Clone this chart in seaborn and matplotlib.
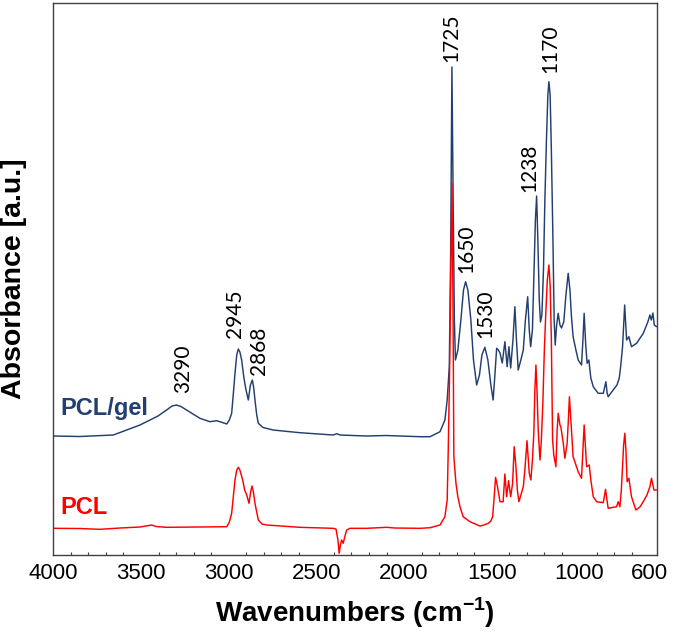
import numpy as np
import matplotlib
matplotlib.use("Agg")
import matplotlib.pyplot as plt
import seaborn as sns
import pandas as pd

# FTIR spectra, wavenumber [cm-1] / absorbance [a.u.]
GEL_WN = [4000, 3848, 3658, 3582, 3506, 3449, 3403, 3354, 3323, 3297, 3272, 3240,
          3204, 3164, 3107, 3069, 3044, 3011, 2996, 2983, 2974, 2964, 2954, 2945,
          2936, 2926, 2913, 2901, 2888, 2876, 2865, 2857, 2850, 2840, 2831, 2804,
          2746, 2594, 2404, 2384, 2365, 2213, 2103, 1909, 1852, 1795, 1767, 1754,
          1742, 1734, 1727, 1720, 1713, 1707, 1693, 1676, 1661, 1649, 1636, 1619,
          1604, 1586, 1570, 1556, 1539, 1522, 1505, 1492, 1482, 1472, 1462, 1453,
          1440, 1425, 1412, 1402, 1392, 1379, 1368, 1359, 1349, 1334, 1320, 1308,
          1295, 1286, 1278, 1268, 1260, 1251, 1244, 1237, 1229, 1222, 1214, 1205,
          1197, 1188, 1180, 1174, 1167, 1160, 1151, 1144, 1138, 1130, 1121, 1111,
          1102, 1089, 1077, 1064, 1054, 1046, 1036, 1020, 1007, 988, 980, 973,
          964, 956, 946, 935, 921, 893, 864, 849, 842, 836, 807, 786,
          773, 764, 754, 742, 731, 718, 703, 674, 636, 610, 598, 590,
          581, 573, 560]
GEL_ABS = [1.19, 1.185, 1.20, 1.25, 1.30, 1.35, 1.39, 1.45, 1.49, 1.50, 1.485, 1.45,
           1.41, 1.367, 1.333, 1.343, 1.33, 1.31, 1.35, 1.417, 1.60, 1.817, 2.00, 2.06,
           2.03, 1.95, 1.77, 1.65, 1.55, 1.70, 1.75, 1.67, 1.55, 1.40, 1.317, 1.275,
           1.25, 1.223, 1.20, 1.213, 1.20, 1.19, 1.195, 1.183, 1.183, 1.233, 1.35, 1.55,
           1.883, 3.05, 4.88, 3.55, 2.35, 1.95, 2.05, 2.35, 2.65, 2.733, 2.65, 2.35,
           1.95, 1.70, 1.80, 2.00, 2.077, 1.95, 1.70, 1.55, 1.80, 2.067, 2.05, 2.02,
           1.92, 2.133, 1.883, 2.083, 1.87, 2.15, 2.483, 2.15, 1.85, 1.95, 2.05, 2.35,
           2.583, 2.25, 2.083, 2.25, 2.75, 3.35, 3.59, 3.15, 2.55, 2.33, 2.40, 2.85,
           3.55, 4.15, 4.60, 4.733, 4.60, 4.05, 3.15, 2.35, 2.10, 2.30, 2.417, 2.30,
           2.27, 2.333, 2.60, 2.817, 2.65, 2.40, 2.183, 2.05, 1.95, 1.90, 2.15, 2.417,
           2.10, 1.917, 1.95, 1.77, 1.683, 1.617, 1.617, 1.733, 1.62, 1.583, 1.65, 1.70,
           1.767, 1.90, 2.083, 2.50, 2.15, 2.183, 2.083, 2.117, 2.217, 2.33, 2.40, 2.35,
           2.42, 2.30, 2.283]

PCL_WN = [4000, 3848, 3734, 3620, 3506, 3439, 3414, 3354, 3164, 3011, 2996, 2983,
          2974, 2964, 2954, 2945, 2936, 2920, 2909, 2897, 2884, 2875, 2867, 2859,
          2850, 2840, 2831, 2810, 2783, 2594, 2404, 2388, 2377, 2370, 2363, 2356,
          2347, 2337, 2327, 2308, 2213, 2099, 2052, 1909, 1852, 1795, 1767, 1754,
          1748, 1741, 1734, 1727, 1721, 1716, 1704, 1693, 1681, 1663, 1624, 1567,
          1545, 1520, 1505, 1495, 1486, 1478, 1467, 1453, 1435, 1425, 1415, 1404,
          1392, 1381, 1372, 1362, 1354, 1345, 1334, 1320, 1311, 1299, 1286, 1277,
          1268, 1260, 1254, 1248, 1242, 1235, 1225, 1217, 1208, 1200, 1191, 1183,
          1174, 1167, 1160, 1153, 1146, 1134, 1127, 1121, 1111, 1106, 1092, 1083,
          1070, 1063, 1057, 1049, 1036, 1020, 1007, 988, 980, 973, 966, 959,
          944, 935, 921, 902, 864, 851, 843, 836, 815, 788, 779, 769,
          761, 754, 748, 741, 735, 728, 718, 703, 678, 655, 636, 615,
          598, 589, 581, 575, 560]
PCL_ABS = [0.267, 0.265, 0.257, 0.27, 0.28, 0.30, 0.285, 0.277, 0.28, 0.283, 0.33, 0.417,
           0.58, 0.75, 0.85, 0.877, 0.85, 0.75, 0.65, 0.60, 0.517, 0.63, 0.69, 0.63,
           0.517, 0.43, 0.35, 0.31, 0.30, 0.277, 0.267, 0.26, 0.15, 0.017, 0.10, 0.15,
           0.117, 0.19, 0.25, 0.267, 0.267, 0.277, 0.27, 0.267, 0.273, 0.30, 0.383, 0.55,
           1.05, 1.75, 2.75, 3.717, 2.55, 0.983, 0.717, 0.58, 0.483, 0.383, 0.333, 0.29,
           0.30, 0.317, 0.34, 0.383, 0.583, 0.777, 0.683, 0.533, 0.533, 0.81, 0.583, 0.743,
           0.583, 0.717, 1.083, 0.883, 0.65, 0.533, 0.60, 0.683, 0.85, 1.143, 0.817, 0.75,
           0.95, 1.217, 1.65, 1.90, 1.65, 1.25, 0.95, 1.15, 1.55, 2.05, 2.45, 2.75,
           2.90, 2.70, 2.15, 1.15, 1.00, 0.883, 1.25, 1.417, 1.30, 1.283, 1.117, 0.967,
           1.117, 1.35, 1.583, 1.35, 0.983, 0.90, 0.833, 0.767, 1.05, 1.30, 1.10, 0.883,
           0.90, 0.75, 0.583, 0.533, 0.523, 0.657, 0.55, 0.467, 0.475, 0.483, 0.533, 0.483,
           0.65, 0.883, 1.10, 1.217, 1.05, 0.733, 0.767, 0.583, 0.45, 0.48, 0.533, 0.60,
           0.683, 0.767, 0.70, 0.65, 0.65]

# peak labels and where their text sits (wavenumber, absorbance of text base)
PEAK_LABELS = ["3290", "2945", "2868", "1725", "1650", "1530", "1238", "1170"]
PEAK_TEXT_X = [3258, 2964, 2827, 1733, 1647, 1536, 1285, 1168]
PEAK_TEXT_Y = [1.62, 2.17, 1.80, 4.93, 2.82, 2.17, 3.63, 4.82]

XTICKS = [4000, 3500, 3000, 2500, 2000, 1500, 1000, 600]

GEL_COLOR = "#233f6e"
PCL_COLOR = "#ff0000"


def main():
    sns.set_style("white")
    plt.rcParams['font.family'] = ['Liberation Sans', 'DejaVu Sans']
    plt.rcParams['text.color'] = 'black'
    plt.rcParams['axes.labelcolor'] = 'black'
    plt.rcParams['xtick.labelcolor'] = 'black'
    plt.rcParams['mathtext.fontset'] = 'custom'
    plt.rcParams['mathtext.rm'] = 'Liberation Sans'
    plt.rcParams['mathtext.bf'] = 'Liberation Sans:bold'

    df = pd.concat([
        pd.DataFrame({'wn': GEL_WN, 'abs': GEL_ABS, 'sample': 'PCL/gel'}),
        pd.DataFrame({'wn': PCL_WN, 'abs': PCL_ABS, 'sample': 'PCL'}),
    ], ignore_index=True)

    fig = plt.figure(figsize=(6.85, 6.37), dpi=100)
    ax = fig.add_axes([0.0778, 0.1287, 0.882, 0.8666])

    sns.lineplot(data=df, x='wn', y='abs', hue='sample',
                 hue_order=['PCL/gel', 'PCL'],
                 palette={'PCL/gel': GEL_COLOR, 'PCL': PCL_COLOR},
                 estimator=None, sort=False, linewidth=1.05,
                 legend=False, ax=ax)

    ax.set_xlim(4000, 555)
    ax.set_ylim(0, 5.52)
    ax.set_xticks(XTICKS)
    ax.set_xticks(np.arange(4000, 555, -100), minor=True)
    ax.set_yticks([])
    ax.tick_params(axis='x', which='major', direction='in', length=4,
                   width=0.8, labelsize=16, pad=6, color='#404040')
    ax.tick_params(axis='x', which='minor', direction='in', length=2.5,
                   width=0.8, color='#404040', bottom=True)
    for sp in ax.spines.values():
        sp.set_visible(True)
        sp.set_color('#404040')
        sp.set_linewidth(1.0)

    ax.set_xlabel(r"Wavenumbers (cm$^{\mathbf{-1}}$)", fontsize=20,
                  fontweight='bold', labelpad=8)
    ax.set_ylabel("Absorbance [a.u.]", fontsize=20.5, fontweight='bold',
                  labelpad=19)

    for label, x, y in zip(PEAK_LABELS, PEAK_TEXT_X, PEAK_TEXT_Y):
        ax.text(x, y, label, rotation=90, ha='center', va='bottom',
                fontsize=15, family=['Lato', 'DejaVu Sans'], color='black')

    ax.text(3962, 1.47, "PCL/gel", ha='left', va='center', fontsize=17,
            fontweight='bold', color=GEL_COLOR)
    ax.text(3962, 0.48, "PCL", ha='left', va='center', fontsize=17,
            fontweight='bold', color=PCL_COLOR)

    fig.savefig("out.png", dpi=100)
    plt.close(fig)


if __name__ == '__main__':
    main()
